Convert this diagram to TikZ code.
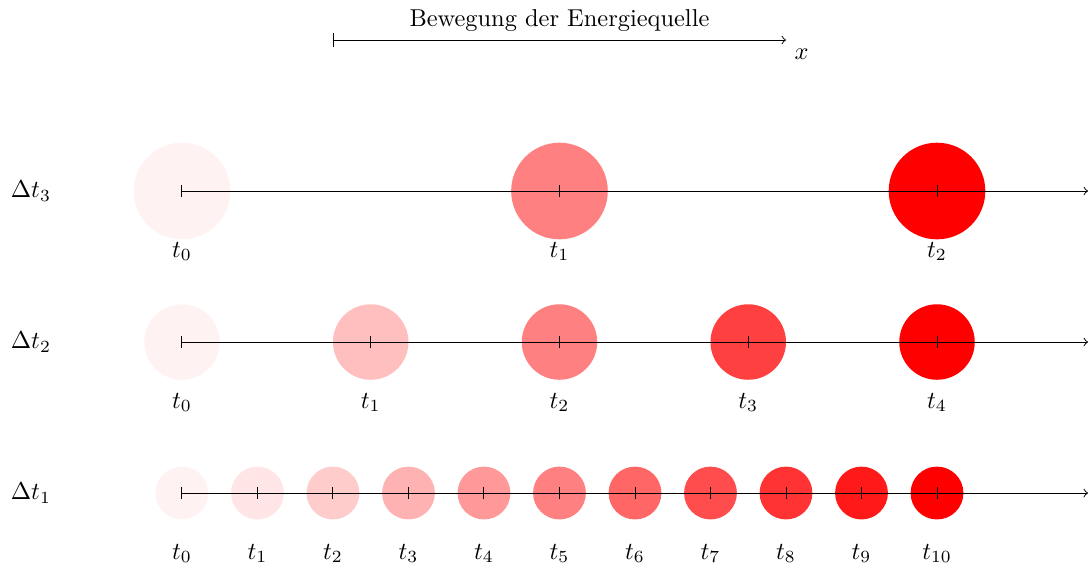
\documentclass[tikz,border=0pt]{standalone}
\usepackage{amsmath}
\usepackage{tikz}
\usetikzlibrary{positioning}

\begin{document}
\begin{tikzpicture}[x=1.087cm,y=1.087cm,
    axis/.style={->,black},
    tickmark/.style={black},
    tlabel/.style={inner sep=2pt}
  ]
  \useasboundingbox (-2.41,-0.99) rectangle (12.0,6.53);
  % Bewegungsrichtung
  \coordinate (mstart) at (2,6);
  \coordinate (mend) at (8,6);
  \draw[axis,|->] (mstart) -- (mend) node[below right] (xlabel) {$x$};
  \node[above] (move) at (5,6) {Bewegung der Energiequelle};
  % Zeilen: Nummer/Hoehe/Intervalle/Radius/Farbschritt
  \foreach \row/\y/\n/\r/\stepc in {3/4/2/0.64/50,2/2/4/0.5/25,1/0/10/0.35/10}{
    \node (dt\row) at (-2,\y) {$\Delta t_{\row}$};
    \foreach \i in {0,...,\n}{
      \pgfmathtruncatemacro{\shade}{max(5,\i*\stepc)}
      \pgfmathsetmacro{\xpos}{\i*10/\n}
      \fill[red!\shade] (\xpos,\y) circle (\r);
      \draw[tickmark] (\xpos,\y+0.08) -- (\xpos,\y-0.08);
      \node[tlabel] (t\row-\i) at (\xpos,\y-0.8) {$t_{\i}$};
    }
    \coordinate (a\row) at (0,\y);
    \coordinate (b\row) at (12,\y);
    \draw[axis] (a\row) -- (b\row);
  }
\end{tikzpicture}
\end{document}
